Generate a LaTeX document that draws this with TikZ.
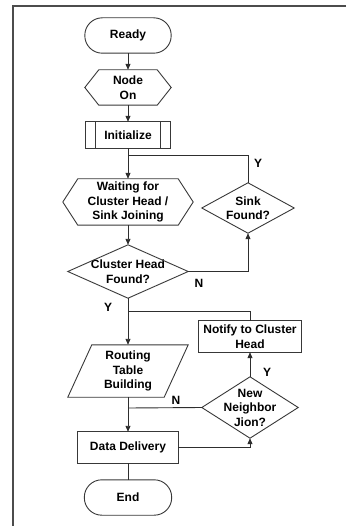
\documentclass[tikz,border=0pt]{standalone}
\usepackage{fontspec}
\setmainfont{Liberation Sans}
\usetikzlibrary{arrows.meta}
\begin{document}
\begin{tikzpicture}[x=1pt,y=-1pt,
  txt/.style={shape=rectangle,inner sep=0pt,align=center,
    font=\fontsize{12}{14.5}\selectfont\bfseries,text=black},
  outline/.style={draw=black!78,line width=0.9pt},
  conn/.style={draw=black!82,line width=0.9pt},
  arr/.style={conn,-{Triangle[length=6pt,width=5pt]}},
  lbl/.style={inner sep=0pt,font=\fontsize{12}{14}\selectfont\bfseries,text=black}]
\useasboundingbox (0,0) rectangle (346,526);
\draw[draw=black!70,line width=1.2pt] (346,6) -- (13,6) -- (13,526);

% nodes
\node[txt,minimum width=86pt,minimum height=35pt] (ready) at (128,35.5) {Ready};
\draw[outline,rounded corners=17.5pt] (ready.south west) rectangle (ready.north east);

\node[txt,minimum width=86pt,minimum height=35pt] (nodeon) at (128,87.5) {Node\\On};
\draw[outline] (nodeon.west) -- ([xshift=14pt]nodeon.north west) -- ([xshift=-14pt]nodeon.north east)
  -- (nodeon.east) -- ([xshift=-14pt]nodeon.south east) -- ([xshift=14pt]nodeon.south west) -- cycle;

\node[txt,minimum width=85pt,minimum height=26pt] (init) at (128,135) {Initialize};
\draw[outline] (init.south west) rectangle (init.north east);
\draw[outline] ([xshift=10pt]init.north west) -- ([xshift=10pt]init.south west);
\draw[outline] ([xshift=-10pt]init.north east) -- ([xshift=-10pt]init.south east);

\node[txt,minimum width=130pt,minimum height=46pt] (wait) at (128,202) {Waiting for\\Cluster Head /\\Sink Joining};
\draw[outline] (wait.west) -- ([xshift=15pt]wait.north west) -- ([xshift=-15pt]wait.north east)
  -- (wait.east) -- ([xshift=-15pt]wait.south east) -- ([xshift=15pt]wait.south west) -- cycle;

\node[txt,minimum width=120pt,minimum height=53pt] (chf) at (128,271.5) {Cluster Head\\Found?};
\draw[outline] (chf.north) -- (chf.east) -- (chf.south) -- (chf.west) -- cycle;

\node[txt,minimum width=92pt,minimum height=50pt] (sink) at (248,208) {Sink\\Found?};
\draw[outline] (sink.north) -- (sink.east) -- (sink.south) -- (sink.west) -- cycle;

\node[txt,minimum width=96pt,minimum height=52pt] (route) at (128,371) {Routing\\Table\\Building};
\draw[outline] ([xshift=12pt]route.north west) -- ([xshift=12pt]route.north east)
  -- ([xshift=-12pt]route.south east) -- ([xshift=-12pt]route.south west) -- cycle;

\node[txt,minimum width=102pt,minimum height=31pt] (notify) at (250,336.5) {Notify to Cluster\\Head};
\draw[outline] (notify.south west) rectangle (notify.north east);

\node[txt,minimum width=96pt,minimum height=61pt] (nn) at (250,407.5) {New\\Neighbor\\Jion?};
\draw[outline] (nn.north) -- (nn.east) -- (nn.south) -- (nn.west) -- cycle;

\node[txt,minimum width=100pt,minimum height=31pt] (dd) at (128,447.5) {Data Delivery};
\draw[outline] (dd.south west) rectangle (dd.north east);

\node[txt,minimum width=87pt,minimum height=35pt] (end) at (128,497.5) {End};
\draw[outline,rounded corners=17.5pt] (end.south west) rectangle (end.north east);

% junction coordinates
\coordinate (j1) at (128,155);
\coordinate (j2) at (128,311);
\coordinate (j3) at (128,408);

% connectors
\draw[arr] (ready) -- (nodeon);
\draw[arr] (nodeon) -- (init);
\draw[arr] (init) -- (wait);
\draw[conn] (sink.north) |- (j1);
\draw[arr] (wait) -- (chf);
\draw[arr] (chf.east) -| (sink.south);
\draw[arr] (chf.south) -- (route.north);
\draw[conn] (notify.north) |- (j2);
\draw[arr] (route.south) -- (dd.north);
\draw[conn] (nn.west) -- (j3);
\draw[arr] (dd.east) -| (nn.south);
\draw[arr] (nn.north) -- (notify.south);
\draw[conn] (dd.south) -- (end.north);

% labels
\node[lbl] (ly1) at (258,163) {Y};
\node[lbl] (ln1) at (199,283) {N};
\node[lbl] (ly2) at (108,307) {Y};
\node[lbl] (ln2) at (176,400) {N};
\node[lbl] (ly3) at (267,372) {Y};
\end{tikzpicture}
\end{document}
